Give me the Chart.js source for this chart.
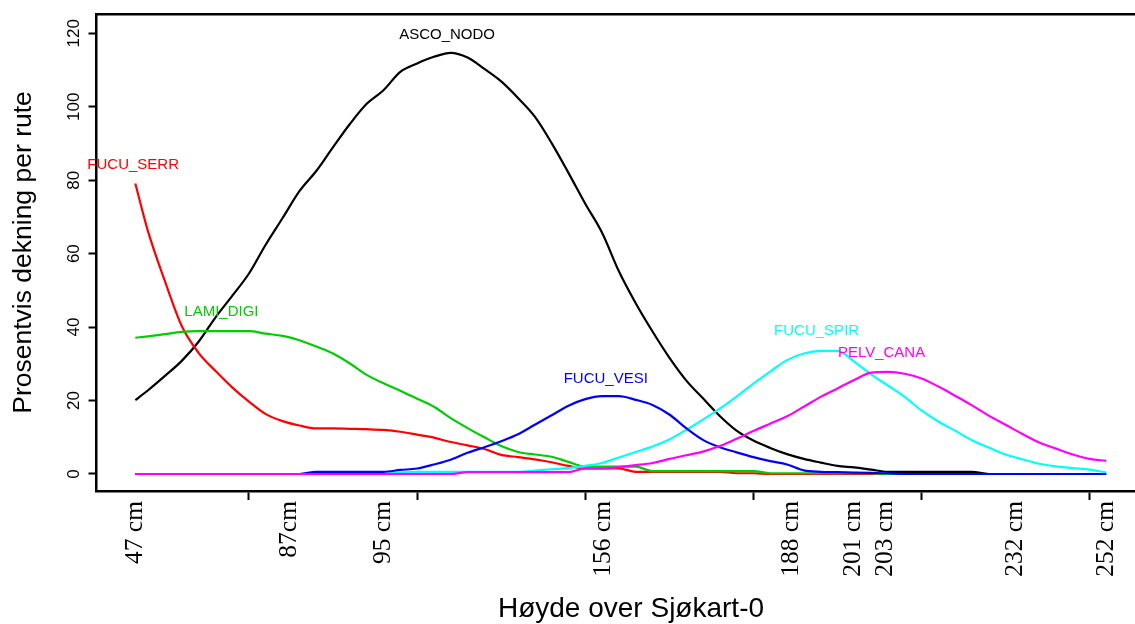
<!DOCTYPE html>
<html>
<head>
<meta charset="utf-8">
<script src="https://cdn.jsdelivr.net/npm/chart.js@4.4.1/dist/chart.umd.min.js"></script>
<style>
    html, body { margin: 0; padding: 0; overflow: hidden; background: #fff; }
    #wrap { width: 1170px; height: 624px; }
</style>
</head>
<body>
<div id="wrap"><canvas id="tareChart"></canvas></div>
<script>
// Posisjon langs transektet (samme enhet som aksemerkene 10, 20 ... 60)
const posisjon = [3.24, 4, 5, 6, 7, 8, 9, 10, 11, 12,
    13, 14, 15, 16, 17, 18, 19, 20, 21, 22,
    23, 24, 25, 26, 27, 28, 29, 30, 31, 32,
    33, 34, 35, 36, 37, 38, 39, 40, 41, 42,
    43, 44, 45, 46, 47, 48, 49, 50, 51, 52,
    53, 54, 55, 56, 57, 58, 59, 60, 60.98];

// Dekning per art (%), lest av figuren
const ascoNodo = [20.1, 22.8, 26.7, 30.8, 36, 42.6, 48.5, 54.6, 62.5, 69.7,
    77, 82.5, 89, 95.3, 100.8, 104.5, 109.5, 111.8, 113.6, 114.7,
    113.4, 110.3, 106.9, 102.4, 97.3, 90.1, 82, 73.6, 65.7, 55.2,
    46.5, 38.8, 31.7, 25.5, 20.6, 15.8, 11.8, 9.1, 7.1, 5.4,
    4.1, 3.1, 2.2, 1.8, 1.2, 0.6, 0.6, 0.6, 0.6, 0.6,
    0.6, 0, 0, 0, 0, 0, 0, 0, 0];
const fucuSerr = [79.1, 66, 52.5, 40.3, 33, 28.1, 23.6, 19.7, 16.3, 14.4,
    13.2, 12.4, 12.4, 12.3, 12.2, 12.0, 11.5, 10.7, 9.9, 8.7,
    7.8, 6.8, 5.2, 4.6, 4.0, 3.2, 2.2, 1.5, 1.5, 1.5,
    0.6, 0.6, 0.6, 0.6, 0.6, 0.6, 0.2, 0.2, 0, 0,
    0, 0, 0, 0, 0, 0, 0, 0, 0, 0,
    0, 0, 0, 0, 0, 0, 0, 0, 0];
const lamiDigi = [37.1, 37.5, 38.1, 38.7, 38.9, 38.9, 38.9, 38.9, 38.2, 37.6,
    36.4, 34.7, 32.8, 30.1, 27, 24.7, 22.7, 20.5, 18.3, 15.2,
    12.5, 10, 7.6, 6, 5.3, 4.7, 3.3, 2.0, 2.0, 2.0,
    2.0, 0.8, 0.8, 0.8, 0.8, 0.8, 0.8, 0.8, 0.2, 0.2,
    0.2, 0.2, 0.2, 0.2, 0.2, 0, 0, 0, 0, 0,
    0, 0, 0, 0, 0, 0, 0, 0, 0];
const fucuVesi = [0, 0, 0, 0, 0, 0, 0, 0, 0, 0,
    0, 0.6, 0.6, 0.6, 0.6, 0.6, 1.1, 1.5, 2.6, 3.9,
    5.8, 7.3, 8.9, 10.8, 13.4, 16, 18.6, 20.4, 21.2, 21.2,
    20.2, 18.8, 16.2, 12.5, 9.3, 7.3, 5.9, 4.6, 3.5, 2.6,
    1, 0.6, 0.5, 0.4, 0.3, 0.2, 0, 0, 0, 0,
    0, 0, 0, 0, 0, 0, 0, 0, 0];
const fucuSpir = [0, 0, 0, 0, 0, 0, 0, 0, 0, 0,
    0, 0, 0, 0, 0, 0, 0.4, 0.6, 0.6, 0.6,
    0.6, 0.6, 0.6, 0.6, 0.9, 1.3, 1.6, 2.2, 3.0, 4.5,
    6, 7.5, 9.4, 12, 14.8, 17.8, 21.1, 24.6, 27.9, 31,
    32.8, 33.5, 33.5, 30.6, 27.1, 24.1, 21, 17.3, 14.3, 11.8,
    9.2, 7.2, 5.3, 4, 2.8, 2.1, 1.6, 1.2, 0.4];
const pelvCana = [0, 0, 0, 0, 0, 0, 0, 0, 0, 0,
    0, 0, 0, 0, 0, 0, 0, 0, 0, 0,
    0.5, 0.5, 0.5, 0.5, 0.5, 0.5, 0.5, 1.5, 1.5, 1.9,
    2.4, 3.0, 4.1, 5.1, 6.1, 7.6, 9.6, 11.7, 13.7, 15.7,
    18.3, 21, 23.3, 25.6, 27.6, 27.8, 27.3, 26, 23.8, 21.3,
    18.7, 15.9, 13.4, 10.9, 8.6, 6.9, 5.3, 4.1, 3.6];

// Aksene
const yVerdier = [0, 20, 40, 60, 80, 100, 120];
const merkeTicks = [10, 20, 30, 40, 50, 60];
const hoydePos = [3.25, 12.4, 18.0, 31.1, 42.28, 45.95, 47.82, 55.6, 61.0];
const hoydeTekst = ['47 cm', '87cm', '95 cm', '156 cm', '188 cm', '201 cm', '203 cm', '232 cm', '252 cm'];

// Artsnavn ved kurvene: [x, y]
const navnPos = {
    ASCO_NODO: [21.78, 119.6],
    FUCU_SERR: [3.11, 84.1],
    LAMI_DIGI: [8.36, 44.1],
    FUCU_VESI: [31.22, 26.0],
    FUCU_SPIR: [43.76, 39.0],
    PELV_CANA: [47.62, 33.0],
};

const SANS = '"Liberation Sans", Arial, Helvetica, sans-serif';
const SERIF = '"Liberation Serif", "Times New Roman", serif';
const X_MIN = 0.93, X_MAX = 64.51;

// Rekkefølge: første datasett tegnes øverst
const serier = [
    { navn: 'PELV_CANA', verdier: pelvCana, farge: '#FF00FF' },
    { navn: 'FUCU_VESI', verdier: fucuVesi, farge: '#0000FF' },
    { navn: 'FUCU_SPIR', verdier: fucuSpir, farge: '#00FFFF' },
    { navn: 'LAMI_DIGI', verdier: lamiDigi, farge: '#00CD00' },
    { navn: 'FUCU_SERR', verdier: fucuSerr, farge: '#FF0000' },
    { navn: 'ASCO_NODO', verdier: ascoNodo, farge: '#000000' },
];

const datasets = serier.map(s => ({
    label: s.navn,
    data: posisjon.map((x, i) => ({ x, y: s.verdier[i] })),
    borderColor: s.farge,
    backgroundColor: s.farge,
    borderWidth: 2.2,
    pointRadius: 0,
    cubicInterpolationMode: 'monotone',
    fill: false,
}));

// Skriver artsnavnet i samme farge som kurven
const artsnavnPlugin = {
    id: 'artsnavn',
    afterDatasetsDraw(chart) {
        const { ctx, scales: { x, y } } = chart;
        ctx.save();
        ctx.font = `15px ${SANS}`;
        ctx.textAlign = 'center';
        ctx.textBaseline = 'middle';
        chart.data.datasets.forEach(ds => {
            const [nx, ny] = navnPos[ds.label];
            ctx.fillStyle = ds.borderColor;
            ctx.fillText(ds.label, x.getPixelForValue(nx), y.getPixelForValue(ny));
        });
        ctx.restore();
    }
};

new Chart(document.getElementById('tareChart'), {
    type: 'line',
    data: { datasets },
    plugins: [artsnavnPlugin],
    options: {
        responsive: true,
        maintainAspectRatio: false,
        animation: false,
        layout: { padding: { top: 14, right: 4.5, bottom: 0, left: 0 } },
        plugins: { legend: { display: false }, tooltip: { enabled: false } },
        scales: {
            x: {
                type: 'linear', position: 'bottom', weight: 0,
                min: X_MIN, max: X_MAX, bounds: 'data',
                afterBuildTicks: s => { s.ticks = merkeTicks.map(v => ({ value: v })); },
                afterFit: s => { s.height = 9; },
                ticks: { display: false },
                grid: { drawOnChartArea: false, drawTicks: true, tickLength: 9, tickWidth: 2, tickColor: '#000' },
                border: { display: true, color: '#000', width: 2.5 },
            },
            xLabel: {
                type: 'linear', position: 'bottom', weight: 1,
                min: X_MIN, max: X_MAX, bounds: 'data',
                afterBuildTicks: s => { s.ticks = hoydePos.map(v => ({ value: v })); },
                afterFit: s => { s.height = 124; },
                ticks: {
                    autoSkip: false, minRotation: 90, maxRotation: 90, padding: 1,
                    color: '#000', font: { family: SERIF, size: 25.5 },
                    callback: (v, i) => hoydeTekst[i],
                },
                grid: { display: false, drawTicks: false },
                border: { display: false },
                title: {
                    display: true, text: 'Høyde over Sjøkart-0', color: '#000',
                    font: { family: SANS, size: 28, lineHeight: 1 },
                    padding: { top: 0, bottom: 1 },
                },
            },
            xTop: {
                type: 'linear', position: 'top',
                min: X_MIN, max: X_MAX, bounds: 'data',
                afterFit: s => { s.height = 0; },
                ticks: { display: false },
                grid: { display: false, drawTicks: false },
                border: { display: true, color: '#000', width: 2.5 },
            },
            y: {
                type: 'linear', position: 'left',
                min: -4.63, max: 125.26, bounds: 'data',
                afterBuildTicks: s => { s.ticks = yVerdier.map(v => ({ value: v })); },
                afterFit: s => { s.width = 96.5; },
                ticks: {
                    minRotation: 90, maxRotation: 90, crossAlign: 'center', padding: 0,
                    color: '#000', font: { family: SANS, size: 17 },
                },
                grid: { drawOnChartArea: false, tickLength: 8, tickWidth: 2, tickColor: '#000' },
                border: { color: '#000', width: 2.5 },
                title: {
                    display: true, text: 'Prosentvis dekning per rute', color: '#000',
                    font: { family: SANS, size: 26.5, lineHeight: 1 },
                    padding: { top: 10.7, bottom: 0 },
                },
            },
        },
    },
});
</script>
</body>
</html>
